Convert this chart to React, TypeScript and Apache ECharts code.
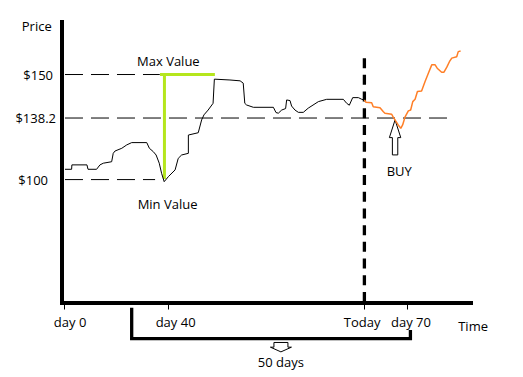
import React, { useEffect, useRef } from "react";
import * as echarts from "echarts";

// ---- data (days on x, price in $ on y) ----
const historyDays = [
  0.15, 2.7, 2.8, 8.6, 9.0, 12.3, 13.6, 14.9, 18.1, 18.7, 19.4, 22.0, 23.9, 25.8, 31.6, 32.6, 34.1,
  35.2, 36.4, 37.3, 38.3, 39.9, 42.5, 43.7, 45.0, 47.6, 47.6, 51.4, 52.7, 53.6, 55.2, 57.1, 57.6,
  63.6, 67.5, 68.7, 69.3, 70.0, 72.6, 80.3, 81.3, 82.2, 83.5, 85.0, 85.4, 86.7, 87.3, 88.6, 89.9,
  91.8, 93.7, 97.6, 100.8, 107.2, 108.5, 109.5, 110.8, 113.0, 114.3, 115.3,
];
const historyPrices = [
  104.9, 104.9, 107.0, 107.0, 104.9, 104.9, 107.0, 107.8, 108.5, 112.5, 113.6, 114.9, 116.5, 117.6,
  117.6, 114.9, 113.3, 111.7, 107.8, 103.0, 99.0, 101.4, 104.6, 110.1, 111.7, 112.5, 121.2, 122.3,
  128.4, 130.8, 133.1, 136.3, 147.8, 147.4, 147.0, 145.9, 136.3, 135.5, 134.4, 134.4, 131.9, 131.6,
  133.1, 133.8, 137.9, 137.6, 135.0, 133.1, 132.0, 132.0, 134.0, 137.1, 138.2, 138.2, 136.3, 135.4,
  139.0, 139.0, 138.2, 137.9,
];
const forecastDays = [
  115.3, 115.9, 118.1, 118.7, 121.3, 122.6, 123.2, 125.8, 126.4, 127.5, 128.3, 129.3, 130.0, 130.9,
  132.2, 133.1, 133.9, 134.8, 135.7, 137.3, 138.6, 139.9, 141.2, 142.5, 143.3, 145.0, 145.9, 147.0,
  148.0, 148.9, 150.8, 151.4, 152.3,
];
const forecastPrices = [
  137.9, 136.8, 136.6, 134.7, 134.2, 132.3, 131.6, 131.1, 129.7, 127.6, 126.0, 124.4, 126.0, 129.7,
  132.7, 133.1, 137.1, 138.2, 141.9, 142.2, 146.6, 150.6, 154.6, 154.6, 153.0, 151.1, 151.1, 153.5,
  156.1, 157.8, 158.5, 160.9, 161.2,
];

const xTickDays = [0, 40, 115.3, 131.6];
const xLabelDays = [2.1, 42.7, 114.4, 133.2];
const xLabelTexts = ["day 0", "day 40", "Today", "day 70"];

// price levels: the $138.2 level sits where the drawing puts it
const yLevelValues = [150, 129.3, 100];
const yLevelTexts = ["$150", "$138.2", "$100"];

// ---- annotation geometry (in data units) ----
const levelLineSpans: [number, number, number][] = [
  [150, 0.15, 36.6],
  [129.3, 0.15, 149],
  [100, 0.15, 34.8],
];
const maxMarker = { day: 38.4, low: 100.3, high: 150, end: 57.8, start: 36.7 };
const todayLine = { day: 115.3, top: 157.8, bottom: 41.5 };
const bracket = { left: 25.8, right: 133.0, top: 39.0, bottom: 24.3, rightTop: 28.4 };
const buyArrowTip = [127.1, 128.4];
const daysArrowTip = [83.2, 18.0];
const notes: [string, number, number][] = [
  ["Max Value", 39.9, 156.6],
  ["Min Value", 39.6, 88.5],
  ["BUY", 128.7, 104.0],
  ["50 days", 83.2, 13.1],
  ["Time", 157.1, 30.5],
];

const FONT = '"Open Sans", sans-serif';
const X_MIN = -1;
const X_MAX = 156.3;
const Y_MIN = 41.5;
const Y_MAX = 175;

export default function App() {
  const ref = useRef<HTMLDivElement>(null);
  useEffect(() => {
    if (!ref.current) return;
    const chart = echarts.init(ref.current, undefined, { renderer: "svg" });
    const findIdx = (arr: number[], v: number) => arr.findIndex((a) => Math.abs(a - v) < 0.01);

    const option: any = {
      animation: false,
      backgroundColor: "#ffffff",
      textStyle: { fontFamily: FONT, fontSize: 13, color: "#000" },
      grid: { left: 62, right: 52, top: 22, bottom: 74.5 },
      xAxis: {
        type: "value",
        min: X_MIN,
        max: X_MAX,
        axisLine: { show: true, onZero: false, lineStyle: { color: "#000", width: 4, cap: "square" } },
        axisTick: {
          show: true,
          customValues: xTickDays,
          length: 7,
          lineStyle: { color: "#000", width: 1 },
        },
        axisLabel: {
          show: true,
          customValues: xLabelDays,
          margin: 19.5,
          verticalAlign: "middle",
          fontFamily: FONT,
          fontSize: 13,
          color: "#000",
          formatter: (v: number) => {
            const i = findIdx(xLabelDays, v);
            return i >= 0 ? xLabelTexts[i] : "";
          },
        },
        splitLine: { show: false },
      },
      yAxis: {
        type: "value",
        min: Y_MIN,
        max: Y_MAX,
        name: "Price",
        nameLocation: "end",
        nameGap: -4.2,
        nameTextStyle: {
          fontFamily: FONT,
          fontSize: 13,
          color: "#000",
          align: "right",
          verticalAlign: "middle",
          padding: [0, 10.3, 0, 0],
        },
        axisLine: { show: true, onZero: false, lineStyle: { color: "#000", width: 4, cap: "square" } },
        axisTick: { show: false },
        axisLabel: {
          show: true,
          customValues: yLevelValues,
          margin: 6,
          verticalAlign: "middle",
          fontFamily: FONT,
          fontSize: 13,
          color: "#000",
          formatter: (v: number) => {
            const i = findIdx(yLevelValues, v);
            return i >= 0 ? `{l${i}|${yLevelTexts[i]}}` : "";
          },
          rich: {
            l0: { fontFamily: FONT, fontSize: 13, color: "#000", padding: [0, 3, 0, 0] },
            l1: { fontFamily: FONT, fontSize: 13, color: "#000" },
            l2: { fontFamily: FONT, fontSize: 13, color: "#000", padding: [0, 8, 0, 0] },
          },
        },
        splitLine: { show: false },
      },
      series: [
        {
          type: "custom",
          name: "annotations",
          clip: false,
          silent: true,
          z: 1,
          data: [[0, 100]],
          renderItem: (_params: any, api: any) => {
            const c = (t: number, p: number) => api.coord([t, p]);
            const children: any[] = [];
            levelLineSpans.forEach(([p, t0, t1]) => {
              const a = c(t0, p);
              const b = c(t1, p);
              children.push({
                type: "line",
                shape: { x1: a[0], y1: a[1], x2: b[0], y2: b[1] },
                style: { stroke: "#000", lineWidth: 1, lineDash: [18, 8] },
              });
            });
            // today dashed line
            {
              const a = c(todayLine.day, todayLine.top);
              const b = c(todayLine.day, todayLine.bottom);
              children.push({
                type: "line",
                shape: { x1: a[0], y1: a[1], x2: b[0], y2: b[1] },
                style: { stroke: "#000", lineWidth: 3.3, lineDash: [10, 6.7] },
              });
            }
            // max/min marker (green)
            {
              const h0 = c(maxMarker.start, maxMarker.high);
              const h1 = c(maxMarker.end, maxMarker.high);
              const v0 = c(maxMarker.day, maxMarker.high);
              const v1 = c(maxMarker.day, maxMarker.low);
              children.push({
                type: "line",
                shape: { x1: v0[0], y1: v0[1], x2: v1[0], y2: v1[1] },
                style: { stroke: "#B5E61D", lineWidth: 3 },
              });
              children.push({
                type: "line",
                shape: { x1: h0[0], y1: h0[1], x2: h1[0], y2: h1[1] },
                style: { stroke: "#B5E61D", lineWidth: 3 },
              });
            }
            // bracket
            {
              const p1 = c(bracket.left, bracket.top);
              const p2 = c(bracket.left, bracket.bottom);
              const p3 = c(bracket.right, bracket.bottom);
              const p4 = c(bracket.right, bracket.rightTop);
              children.push({
                type: "polyline",
                shape: { points: [p1, p2, p3, p4] },
                style: { stroke: "#000", lineWidth: 3.3, fill: "none", lineJoin: "miter" },
              });
            }
            // BUY arrow (points up)
            {
              const [x, y] = c(buyArrowTip[0], buyArrowTip[1]);
              children.push({
                type: "polygon",
                shape: {
                  points: [
                    [x, y],
                    [x + 5.7, y + 17.7],
                    [x + 2.7, y + 17.7],
                    [x + 2.7, y + 35],
                    [x - 2.7, y + 35],
                    [x - 2.7, y + 17.7],
                    [x - 5.7, y + 17.7],
                  ],
                },
                style: { fill: "#fff", stroke: "#000", lineWidth: 1 },
              });
            }
            // 50 days arrow (points down)
            {
              const [x, y] = c(daysArrowTip[0], daysArrowTip[1]);
              children.push({
                type: "polygon",
                shape: {
                  points: [
                    [x, y],
                    [x + 10.5, y - 4.7],
                    [x + 7, y - 4.7],
                    [x + 7, y - 9.4],
                    [x - 7, y - 9.4],
                    [x - 7, y - 4.7],
                    [x - 10.5, y - 4.7],
                  ],
                },
                style: { fill: "#fff", stroke: "#000", lineWidth: 1 },
              });
            }
            notes.forEach(([text, t, p]) => {
              const [x, y] = c(t, p);
              children.push({
                type: "text",
                x,
                y,
                style: {
                  text,
                  fill: "#000",
                  fontFamily: FONT,
                  fontSize: 13,
                  align: "center",
                  verticalAlign: "middle",
                },
              });
            });
            return { type: "group", children };
          },
        },
        {
          type: "line",
          name: "history",
          data: historyDays.map((d, i) => [d, historyPrices[i]]),
          showSymbol: false,
          symbol: "none",
          lineStyle: { color: "#000", width: 1 },
          z: 3,
        },
        {
          type: "line",
          name: "forecast",
          data: forecastDays.map((d, i) => [d, forecastPrices[i]]),
          showSymbol: false,
          symbol: "none",
          lineStyle: { color: "#FF7F27", width: 1.5 },
          z: 3,
        },
      ],
    };
    chart.setOption(option);
    return () => chart.dispose();
  }, []);
  return (
    <div
      ref={ref}
      style={{ position: "fixed", left: 0, top: 0, width: 523, height: 377, background: "#fff" }}
    />
  );
}
